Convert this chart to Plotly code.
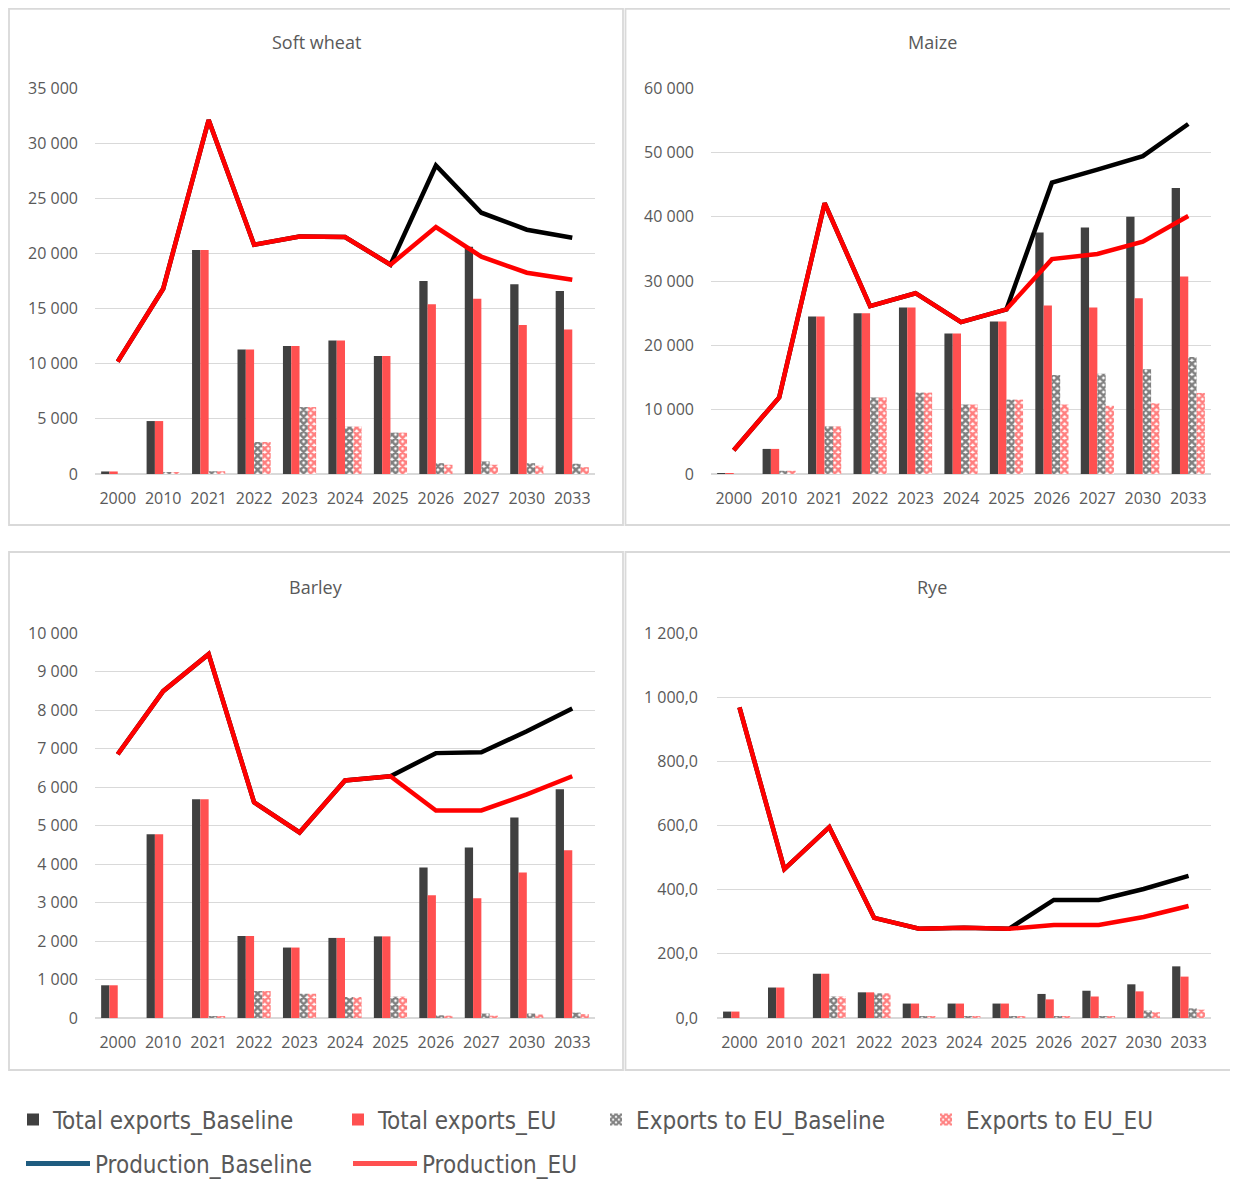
import plotly.graph_objects as go

categories = ["2000", "2010", "2021", "2022", "2023", "2024", "2025", "2026", "2027", "2030", "2033"]

# Soft wheat
sw_total_base = [230, 4800, 20300, 11300, 11600, 12100, 10700, 17500, 20600, 17200, 16600]
sw_total_eu = [230, 4800, 20300, 11300, 11600, 12100, 10700, 15400, 15900, 13500, 13100]
sw_toeu_base = [0, 100, 250, 2900, 6070, 4300, 3750, 980, 1140, 980, 930]
sw_toeu_eu = [0, 100, 250, 2900, 6070, 4300, 3750, 840, 840, 750, 620]
sw_prod_base = [10190, 16800, 32100, 20790, 21540, 21480, 18980, 27970, 23690, 22150, 21420]
sw_prod_eu = [10190, 16800, 32100, 20790, 21540, 21480, 18980, 22390, 19700, 18250, 17620]

# Maize
mz_total_base = [100, 3900, 24500, 25000, 25900, 21850, 23700, 37550, 38300, 40000, 44450]
mz_total_eu = [100, 3900, 24500, 25000, 25900, 21850, 23700, 26200, 25900, 27300, 30700]
mz_toeu_base = [0, 500, 7400, 11900, 12650, 10800, 11560, 15400, 15600, 16300, 18200]
mz_toeu_eu = [0, 500, 7400, 11900, 12650, 10800, 11560, 10800, 10600, 11000, 12600]
mz_prod_base = [3700, 11900, 42100, 26100, 28100, 23600, 25600, 45280, 47300, 49400, 54400]
mz_prod_eu = [3700, 11900, 42100, 26100, 28100, 23600, 25600, 33400, 34200, 36100, 40100]

# Barley
ba_total_base = [850, 4770, 5680, 2130, 1830, 2080, 2120, 3910, 4430, 5210, 5940]
ba_total_eu = [850, 4770, 5680, 2130, 1830, 2080, 2120, 3190, 3110, 3780, 4360]
ba_toeu_base = [0, 0, 40, 700, 630, 545, 555, 70, 115, 115, 140]
ba_toeu_eu = [0, 0, 40, 700, 630, 545, 555, 60, 60, 90, 100]
ba_prod_base = [6850, 8490, 9450, 5600, 4820, 6170, 6280, 6880, 6900, 7450, 8040]
ba_prod_eu = [6850, 8490, 9450, 5600, 4820, 6170, 6280, 5390, 5390, 5810, 6280]

# Rye
ry_total_base = [20, 95, 138, 80, 45, 45, 45, 75, 85, 105, 161]
ry_total_eu = [20, 95, 138, 80, 45, 45, 45, 58, 67, 83, 129]
ry_toeu_base = [0, 0, 67, 77, 5, 5, 5, 5, 5, 23, 30]
ry_toeu_eu = [0, 0, 67, 77, 5, 5, 5, 5, 5, 18, 26]
ry_prod_base = [968, 464, 595, 312, 278, 281, 278, 368, 368, 402, 443]
ry_prod_eu = [968, 464, 595, 312, 278, 281, 278, 290, 290, 315, 349]

panels = [
    ("Soft wheat", sw_total_base, sw_total_eu, sw_toeu_base, sw_toeu_eu, sw_prod_base, sw_prod_eu),
    ("Maize", mz_total_base, mz_total_eu, mz_toeu_base, mz_toeu_eu, mz_prod_base, mz_prod_eu),
    ("Barley", ba_total_base, ba_total_eu, ba_toeu_base, ba_toeu_eu, ba_prod_base, ba_prod_eu),
    ("Rye", ry_total_base, ry_total_eu, ry_toeu_base, ry_toeu_eu, ry_prod_base, ry_prod_eu),
]

# page has an 8px body margin: figure occupies screen pixels 8..1238 / 8..1180
OFF = 8
W, H = 1238 - OFF, 1180 - OFF
def px(x):
    return (x - OFF) / W
def py(y):
    return 1 - (y - OFF) / H

# plot-area screen-pixel boxes (left, right, top, bottom)
boxes = [(95, 595, 88, 474), (711, 1211, 88, 474), (95, 595, 633, 1018), (717, 1211, 633, 1018)]
yranges = [(0, 35000, 5000, ",d"), (0, 60000, 10000, ",d"), (0, 10000, 1000, ",d"), (0, 1200, 200, ",.1f")]
title_pos = [(316, 42), (932, 42), (316, 587), (932, 587)]
ystandoff = [16, 16, 16, 18]

DARK = "#404040"
LRED = "#FF5050"
RED = "#FF0000"
GRID = "#D9D9D9"
TXT = "#595959"
TICKFONT = dict(family="Open Sans, Noto Sans, sans-serif", size=16, color=TXT)

fig = go.Figure()
layout_axes = {}
annotations = []
for i, (name, tb, te, eb, ee, pb, pe) in enumerate(panels):
    n = i + 1
    xa = "x" if n == 1 else f"x{n}"
    ya = "y" if n == 1 else f"y{n}"
    fig.add_trace(go.Bar(x=categories, y=tb, name="Total exports_Baseline", xaxis=xa, yaxis=ya,
                         marker=dict(color=DARK, line=dict(width=0)), legend="legend", showlegend=(i == 0),
                         offsetgroup="a"))
    fig.add_trace(go.Bar(x=categories, y=te, name="Total exports_EU", xaxis=xa, yaxis=ya,
                         marker=dict(color=LRED, line=dict(width=0)), legend="legend2", showlegend=(i == 0),
                         offsetgroup="b"))
    fig.add_trace(go.Bar(x=categories, y=eb, name="Exports to EU_Baseline", xaxis=xa, yaxis=ya,
                         marker=dict(color="white", line=dict(width=0),
                                     pattern=dict(shape="x", fgcolor="black", bgcolor="white", size=5, solidity=0.75)),
                         legend="legend3", showlegend=(i == 0), offsetgroup="c"))
    fig.add_trace(go.Bar(x=categories, y=ee, name="Exports to EU_EU", xaxis=xa, yaxis=ya,
                         marker=dict(color="white", line=dict(width=0),
                                     pattern=dict(shape="x", fgcolor=RED, bgcolor="white", size=5, solidity=0.75)),
                         legend="legend4", showlegend=(i == 0), offsetgroup="d"))
    fig.add_trace(go.Scatter(x=categories, y=pb, name="Production_Baseline", xaxis=xa, yaxis=ya, mode="lines",
                             line=dict(color="black", width=4.5), showlegend=False))
    fig.add_trace(go.Scatter(x=categories, y=pe, name="Production_EU", xaxis=xa, yaxis=ya, mode="lines",
                             line=dict(color=RED, width=4.5), showlegend=False))

    l, r, t, b = boxes[i]
    y0, y1, dt, fmt = yranges[i]
    layout_axes["xaxis" if n == 1 else f"xaxis{n}"] = dict(
        domain=[px(l), px(r)], anchor=ya, type="category", showgrid=False, zeroline=False,
        showline=False, ticks="", tickfont=TICKFONT, ticklabelstandoff=13, fixedrange=True)
    layout_axes["yaxis" if n == 1 else f"yaxis{n}"] = dict(
        domain=[py(b), py(t)], anchor=xa, range=[y0, y1], dtick=dt, tick0=0, tickformat=fmt,
        showgrid=True, gridcolor=GRID, gridwidth=1.3, zeroline=True, zerolinecolor=GRID, zerolinewidth=1.5,
        showline=False, ticks="", tickfont=TICKFONT, ticklabelstandoff=ystandoff[i], fixedrange=True)
    tx, ty = title_pos[i]
    annotations.append(dict(text=name, x=px(tx), y=py(ty), xref="paper", yref="paper", showarrow=False,
                            xanchor="center", yanchor="middle",
                            font=dict(family="Open Sans, Noto Sans, sans-serif", size=18, color=TXT)))

# legend-only line items
fig.add_trace(go.Scatter(x=[None], y=[None], name="Production_Baseline", mode="lines",
                         line=dict(color="#1F5C80", width=5), legend="legend5", showlegend=True))
fig.add_trace(go.Scatter(x=[None], y=[None], name="Production_EU", mode="lines",
                         line=dict(color=LRED, width=5), legend="legend6", showlegend=True))

LEGFONT = dict(family="Liberation Sans Narrow, DejaVu Sans Condensed, Arial Narrow, sans-serif", size=24, color=TXT)
def leg(xpix, ypix, itemwidth=30):
    return dict(x=px(xpix), y=py(ypix), xanchor="left", yanchor="middle", xref="paper", yref="paper",
                font=LEGFONT, bgcolor="rgba(0,0,0,0)", borderwidth=0, itemwidth=itemwidth,
                orientation="h", itemclick=False, itemdoubleclick=False)

# panel borders (screen pixels)
shapes = []
for (x0, x1, y0, y1) in [(9, 623, 8.8, 525), (625.5, 1237, 8.8, 525), (9, 623, 552, 1070), (625.5, 1237, 552, 1070)]:
    shapes.append(dict(type="rect", xref="paper", yref="paper", x0=px(x0), x1=px(x1), y0=py(y1), y1=py(y0),
                       line=dict(color=GRID, width=1.8), fillcolor="rgba(0,0,0,0)", layer="below"))

fig.update_layout(
    width=W, height=H, autosize=False,
    margin=dict(l=0, r=0, t=0, b=0, autoexpand=False),
    paper_bgcolor="white", plot_bgcolor="white",
    barmode="group", bargap=0.27, bargroupgap=0,
    separators=", ",
    annotations=annotations, shapes=shapes,
    legend=leg(13, 1120), legend2=leg(338, 1120), legend3=leg(596, 1120), legend4=leg(926, 1120),
    legend5=leg(21, 1164, itemwidth=64), legend6=leg(348, 1164, itemwidth=64),
    hovermode=False,
    **layout_axes,
)

fig.write_html("out.html")
